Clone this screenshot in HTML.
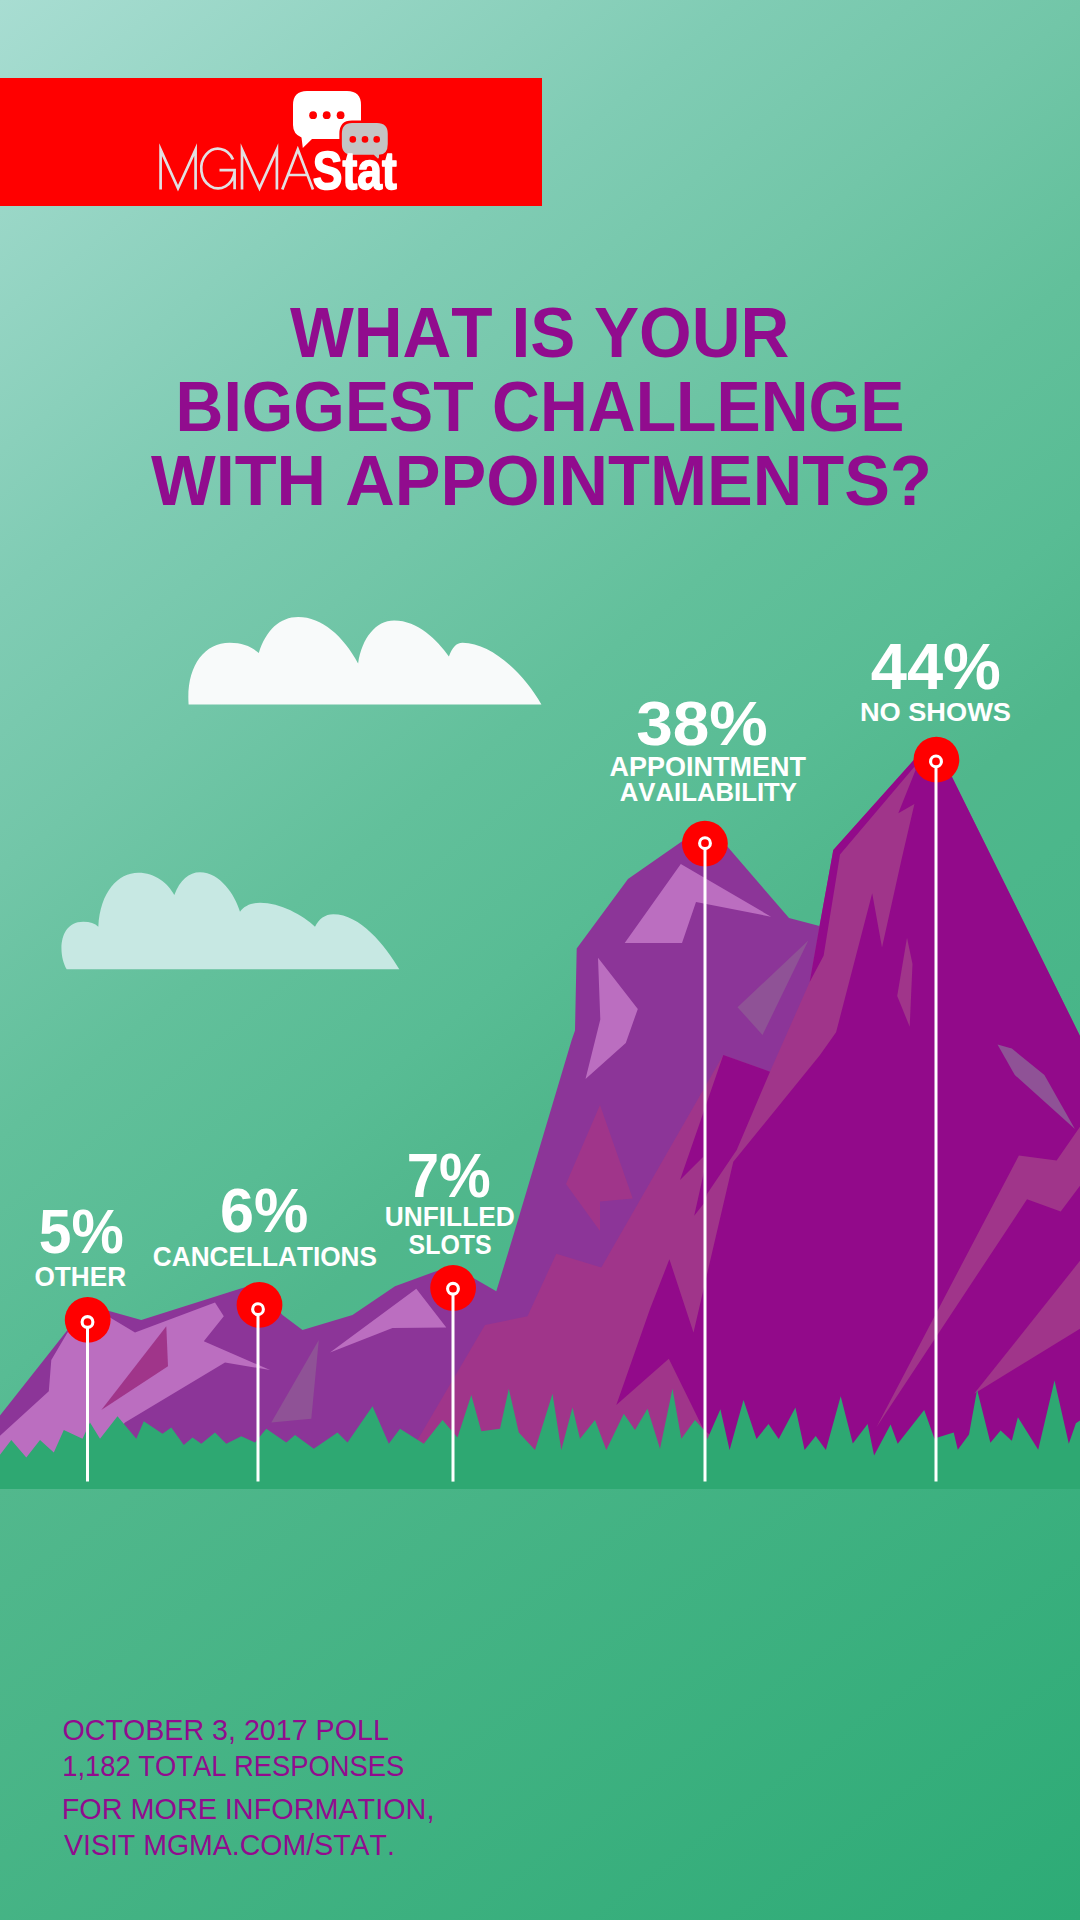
<!DOCTYPE html>
<html><head><meta charset="utf-8"><title>MGMA Stat</title>
<style>
html,body{margin:0;padding:0;width:1080px;height:1920px;overflow:hidden;background:#4cb68b;}
svg{display:block;}
text{font-family:"Liberation Sans",sans-serif;font-kerning:none;}
</style></head>
<body>
<svg width="1080" height="1920" viewBox="0 0 1080 1920">
<defs>
<linearGradient id="g1" gradientUnits="userSpaceOnUse" x1="0" y1="0" x2="1147.8" y2="1434.8">
<stop offset="0" stop-color="rgb(168,221,210)"/>
<stop offset="0.192" stop-color="rgb(138,208,187)"/>
<stop offset="0.253" stop-color="rgb(128,204,180)"/>
<stop offset="0.37" stop-color="rgb(114,198,168)"/>
<stop offset="0.483" stop-color="rgb(98,192,155)"/>
<stop offset="0.586" stop-color="rgb(88,188,148)"/>
<stop offset="0.661" stop-color="rgb(80,183,140)"/>
<stop offset="0.717" stop-color="rgb(76,183,139)"/>
<stop offset="1" stop-color="rgb(62,178,130)"/>
</linearGradient>
<linearGradient id="g2" gradientUnits="userSpaceOnUse" x1="0" y1="1489" x2="583" y2="2284">
<stop offset="0" stop-color="rgb(82,184,141)"/>
<stop offset="1" stop-color="rgb(45,171,118)"/>
</linearGradient>
</defs>
<rect x="0" y="0" width="1080" height="1490" fill="url(#g1)"/>
<rect x="0" y="78" width="542" height="128" fill="#ff0000"/>
<path d="M307,91 H347 Q361,91 361,105 V125 Q361,139 347,139 H312 L302.8,148 L301.5,137.5 Q293,134 293,125 V105 Q293,91 307,91 Z" fill="#ffffff"/>
<circle cx="313.1" cy="115.2" r="3.9" fill="#ff0000"/>
<circle cx="326.7" cy="115.2" r="3.9" fill="#ff0000"/>
<circle cx="340.6" cy="115.2" r="3.9" fill="#ff0000"/>
<path d="M352,121.7 H377 Q389,121.7 389,133.7 V144 Q389,156 379,156 H381.5 L378.3,160.6 L373.3,156 H352 Q340.6,156 340.6,144 V133.7 Q340.6,121.7 352,121.7 Z" fill="#c4c4c4" stroke="#ff0000" stroke-width="2.5"/>
<circle cx="352.8" cy="139.4" r="3.3" fill="#ff0000"/>
<circle cx="365.0" cy="139.4" r="3.3" fill="#ff0000"/>
<circle cx="376.7" cy="139.4" r="3.3" fill="#ff0000"/>
<g fill="none" stroke="#e2e0e2" stroke-width="2.7" stroke-linejoin="miter" stroke-miterlimit="10"><path d="M160.6,189.5 V149.6 L178,188.3 L195.6,149.6 V189.5"/><path d="M233,159.5 A16.8,19.8 0 1 0 234.6,172 V170.2 H219.5 M234.6,170.2 V189.2"/><path d="M242,189.5 V149.6 L259.5,188.3 L276.9,149.6 V189.5"/><path d="M282.3,189.5 L297.8,149.6 L313,189.5 M286.8,175 H308.6"/></g>
<text transform="translate(312.72,188.60) scale(0.8315,1)" font-size="53.49" font-weight="bold" fill="#ffffff" stroke="#ffffff" stroke-width="1.6" stroke-linejoin="round">Stat</text>
<text transform="translate(289.93,357.00) scale(0.9491,1)" font-size="71.22" font-weight="bold" fill="#910c8e" >WHAT IS YOUR</text>
<text transform="translate(175.57,431.00) scale(0.9305,1)" font-size="71.22" font-weight="bold" fill="#910c8e" >BIGGEST CHALLENGE</text>
<text transform="translate(150.93,505.00) scale(0.9629,1)" font-size="71.22" font-weight="bold" fill="#910c8e" >WITH APPOINTMENTS?</text>
<path d="M188.6,704.5 C186,668 203,642.8 229.7,642.8 C243,642.8 252,647 258.8,653.1 C266,630 280,617.1 298.2,617.1 C322,617.1 343,636 358.1,663.4 C362,638 376,620.6 394.1,620.6 C418,620.6 437,640 448.9,656.5 C452,648 456,642.8 462.6,642.8 C492,642.8 525,675 541.4,704.5 Z" fill="#f8fafa"/>
<path d="M66.7,969.3 C58,955 58,921.7 83.3,921.7 C90,921.7 95,923.5 98.3,926.7 C100,892 118,872.7 138.3,872.7 C155,872.7 168,883 174.3,895 C180,880 189,872.3 200,872.3 C220,872.3 235,895 240,911.7 C244,906 251,902.7 260,902.7 C280,902.7 303,915 315,926.7 C319,919 325,914.3 333.3,914.3 C360,914.3 385,945 399.3,969.3 Z" fill="#c7e8e3"/>
<polygon points="-2.0,1418.0 67.5,1330.0 88.0,1306.0 110.0,1311.3 141.3,1320.0 240.0,1288.8 256.0,1284.0 282.5,1315.0 302.5,1330.0 352.5,1315.0 395.0,1286.3 432.5,1272.5 452.0,1266.0 472.5,1277.5 496.3,1291.3 515.0,1230.0 571.7,1040.0 575.0,1030.5 576.7,948.6 628.0,879.0 683.6,840.3 705.0,830.0 726.7,845.8 789.0,918.0 819.4,926.1 840.0,1100.0 840.0,1490.0 -2.0,1490.0" fill="#8c3598" />
<polygon points="680.8,863.9 771.0,916.7 696.0,902.0 682.0,943.0 624.7,943.0" fill="#bb6ec0" />
<polygon points="598.0,957.8 637.8,1008.9 625.8,1043.0 585.5,1079.0 600.3,1019.4" fill="#bb6ec0" />
<polygon points="808.3,940.6 762.5,1035.0 737.5,1007.2" fill="#8f5296" />
<polygon points="600.0,1105.0 632.7,1198.4 600.0,1201.5 600.0,1231.0 566.0,1184.0" fill="#a0358a" />
<polygon points="67.5,1332.5 110.0,1317.5 135.0,1332.5 215.0,1302.5 223.8,1316.3 203.8,1341.3 270.0,1370.0 225.0,1362.5 125.0,1422.5 90.0,1460.0 -2.0,1460.0 -2.0,1437.5 48.8,1391.3 51.3,1360.0" fill="#bb6ec0" />
<polygon points="166.3,1326.3 168.0,1366.3 101.3,1410.0" fill="#a0358a" />
<polygon points="416.3,1288.8 446.3,1327.5 392.5,1328.0 330.0,1352.5" fill="#bb6ec0" />
<polygon points="318.8,1340.0 311.3,1418.8 271.3,1422.5" fill="#8f5296" />
<polygon points="417.5,1490.0 417.5,1440.0 485.0,1325.0 527.5,1316.3 556.3,1253.8 601.3,1267.5 723.3,1055.0 770.0,1071.7 809.7,982.0 819.4,926.7 833.3,850.0 913.3,760.6 930.0,748.0 952.0,777.0 1082.0,1040.0 1082.0,1490.0" fill="#a0358a" />
<polygon points="809.7,982.0 819.4,926.7 833.3,850.0 913.3,760.6 930.0,748.0 952.0,777.0 1082.0,1040.0 1082.0,1490.0 730.0,1490.0 730.0,1450.0 703.8,1430.0 668.8,1358.8 616.3,1405.0 650.0,1309.0 669.4,1259.3 693.5,1332.4 715.0,1240.0 733.3,1161.7 820.0,1055.0 836.1,1032.2 872.2,893.3 882.0,947.5 901.4,860.0 914.4,803.9 898.3,813.3 915.6,770.0 914.4,766.7 840.0,854.4 823.6,955.8" fill="#920a8a" />
<polygon points="723.3,1055.0 770.0,1071.7 736.7,1150.0 707.5,1193.3 704.0,1203.3 694.2,1215.8 704.0,1171.7 703.3,1156.7 680.0,1180.0" fill="#920a8a" />
<polygon points="907.0,937.8 912.5,964.0 909.7,1026.7 897.2,996.0" fill="#a0358a" />
<polygon points="1082.0,1123.9 1056.6,1160.6 1018.9,1155.5 876.3,1427.4 1027.0,1199.3 1060.7,1211.5 1082.0,1183.0" fill="#a0358a" />
<polygon points="1082.0,1258.3 1082.0,1327.6 974.1,1393.8" fill="#a0358a" />
<polygon points="997.5,1044.4 1011.8,1048.5 1044.4,1075.0 1074.9,1129.0 1014.8,1075.0" fill="#8f5296" />
<polygon points="-2.0,1457.5 11.3,1440.0 26.3,1457.5 40.0,1440.0 53.8,1452.5 63.8,1430.0 82.5,1438.8 90.0,1422.5 100.0,1438.8 117.5,1416.3 136.3,1438.8 143.8,1421.3 162.5,1433.8 171.3,1427.5 183.8,1445.0 192.5,1437.5 201.3,1443.8 215.0,1432.5 226.3,1443.8 241.3,1436.3 255.0,1442.5 266.3,1428.8 286.3,1442.5 295.0,1435.0 313.8,1448.8 337.5,1432.5 347.5,1442.5 372.5,1406.3 388.8,1443.8 400.0,1428.8 423.8,1443.8 442.5,1420.0 457.5,1437.5 471.3,1395.0 481.3,1431.3 500.0,1428.8 508.8,1388.8 518.8,1432.5 535.0,1450.0 552.5,1393.8 561.3,1450.0 572.5,1407.5 580.0,1438.8 595.0,1420.0 606.3,1450.0 623.8,1413.8 635.0,1430.0 647.5,1408.8 660.0,1448.8 672.5,1388.8 681.3,1438.8 695.0,1420.0 703.8,1430.0 707.4,1438.9 720.4,1409.3 729.6,1450.0 743.5,1400.0 756.5,1438.9 768.5,1424.1 778.7,1438.9 795.4,1407.4 804.6,1450.0 815.7,1436.1 825.9,1450.0 840.7,1396.3 852.8,1443.5 867.6,1424.1 874.1,1455.6 890.6,1424.4 897.7,1443.7 924.2,1410.1 934.4,1438.6 953.7,1432.5 957.8,1449.8 969.0,1434.5 977.1,1389.7 990.4,1442.7 1000.6,1430.5 1011.8,1440.7 1017.9,1417.2 1038.2,1449.8 1054.5,1380.6 1068.8,1443.7 1075.9,1423.3 1082.0,1419.3 1082.0,1489.5 -2.0,1489.5" fill="#2ea872" />
<rect x="0" y="1489" width="1080" height="431" fill="url(#g2)"/>
<circle cx="87.7" cy="1319.9" r="22.9" fill="#ff0000"/>
<rect x="86.0" y="1327.0" width="3" height="154.5" fill="#ffffff"/>
<circle cx="87.5" cy="1322" r="5.4" fill="none" stroke="#ffffff" stroke-width="3.1"/>
<circle cx="259.5" cy="1304.9" r="22.9" fill="#ff0000"/>
<rect x="256.5" y="1314.2" width="3" height="167.3" fill="#ffffff"/>
<circle cx="258" cy="1309.2" r="5.4" fill="none" stroke="#ffffff" stroke-width="3.1"/>
<circle cx="453.1" cy="1288" r="22.9" fill="#ff0000"/>
<rect x="451.5" y="1293.8" width="3" height="187.8" fill="#ffffff"/>
<circle cx="453" cy="1288.75" r="5.4" fill="none" stroke="#ffffff" stroke-width="3.1"/>
<circle cx="704.9" cy="843.6" r="22.9" fill="#ff0000"/>
<rect x="703.5" y="848.2" width="3" height="633.3" fill="#ffffff"/>
<circle cx="705" cy="843.2" r="5.4" fill="none" stroke="#ffffff" stroke-width="3.1"/>
<circle cx="936.4" cy="759.7" r="22.9" fill="#ff0000"/>
<rect x="934.5" y="766.4" width="3" height="715.1" fill="#ffffff"/>
<circle cx="936" cy="761.4" r="5.4" fill="none" stroke="#ffffff" stroke-width="3.1"/>
<text transform="translate(870.72,689.20) scale(0.9946,1)" font-size="65.41" font-weight="bold" fill="#ffffff" >44%</text>
<text transform="translate(859.88,720.80) scale(1.0231,1)" font-size="26.60" font-weight="bold" fill="#ffffff" >NO SHOWS</text>
<text transform="translate(636.19,745.00) scale(1.0565,1)" font-size="62.21" font-weight="bold" fill="#ffffff" >38%</text>
<text transform="translate(609.53,775.60) scale(1.0094,1)" font-size="26.74" font-weight="bold" fill="#ffffff" >APPOINTMENT</text>
<text transform="translate(619.76,801.00) scale(0.9674,1)" font-size="26.60" font-weight="bold" fill="#ffffff" >AVAILABILITY</text>
<text transform="translate(38.79,1252.80) scale(0.9449,1)" font-size="62.21" font-weight="bold" fill="#ffffff" >5%</text>
<text transform="translate(34.53,1286.00) scale(0.9734,1)" font-size="26.89" font-weight="bold" fill="#ffffff" >OTHER</text>
<text transform="translate(219.96,1232.10) scale(0.9826,1)" font-size="62.21" font-weight="bold" fill="#ffffff" >6%</text>
<text transform="translate(152.82,1265.60) scale(0.9444,1)" font-size="27.76" font-weight="bold" fill="#ffffff" >CANCELLATIONS</text>
<text transform="translate(406.80,1197.00) scale(0.9324,1)" font-size="62.35" font-weight="bold" fill="#ffffff" >7%</text>
<text transform="translate(384.72,1225.90) scale(0.9785,1)" font-size="26.89" font-weight="bold" fill="#ffffff" >UNFILLED</text>
<text transform="translate(408.58,1254.00) scale(0.9320,1)" font-size="26.74" font-weight="bold" fill="#ffffff" >SLOTS</text>
<text transform="translate(62.54,1739.60) scale(0.9806,1)" font-size="29.22" font-weight="normal" fill="#910c8e" >OCTOBER 3, 2017 POLL</text>
<text transform="translate(62.22,1775.70) scale(0.9273,1)" font-size="29.51" font-weight="normal" fill="#910c8e" >1,182 TOTAL RESPONSES</text>
<text transform="translate(61.74,1819.30) scale(0.9712,1)" font-size="29.65" font-weight="normal" fill="#910c8e" >FOR MORE INFORMATION,</text>
<text transform="translate(63.97,1855.40) scale(0.9615,1)" font-size="29.65" font-weight="normal" fill="#910c8e" >VISIT MGMA.COM/STAT.</text>
</svg>
</body></html>
